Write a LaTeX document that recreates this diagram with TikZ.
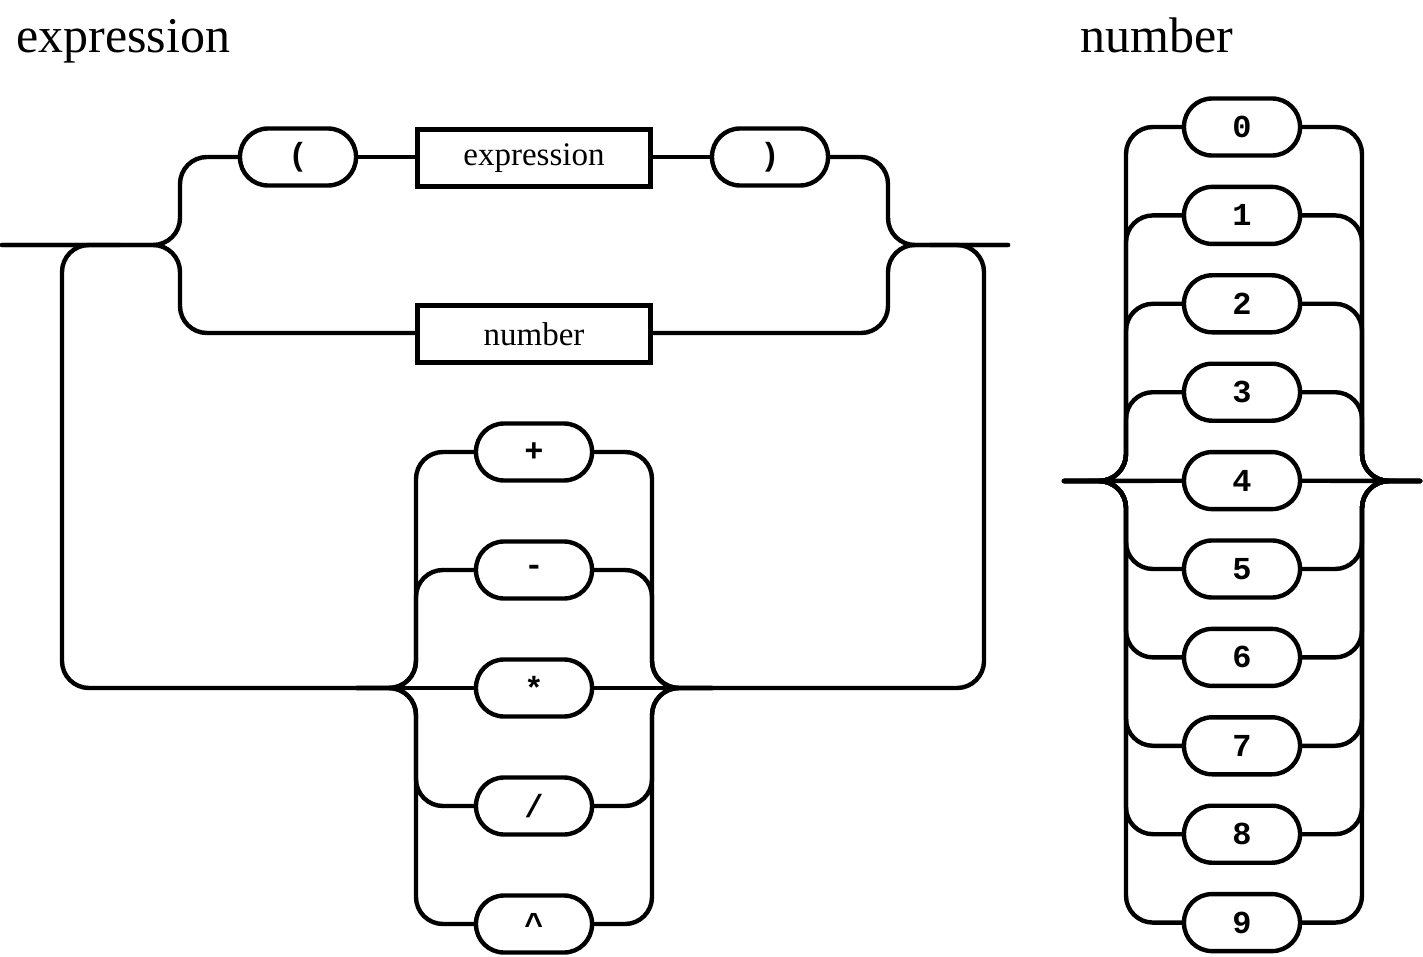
\documentclass[tikz,border=0pt]{standalone}
\usepackage{fontspec}
\setmainfont{Liberation Serif}
\setmonofont{Liberation Mono}

\begin{document}
\begin{tikzpicture}[x=1pt, y=-1pt, line width=4.4pt, line cap=round,
    rail/.style={rounded corners=27pt},
    term/.style={draw, rounded corners=28pt, minimum width=116pt,
      minimum height=57pt, font=\fontsize{32}{36}\selectfont\ttfamily\bfseries},
    nonterm/.style={draw, minimum width=233pt, minimum height=57pt,
      font=\fontsize{33}{40}\selectfont},
    title/.style={anchor=base west, inner sep=0pt,
      font=\fontsize{50}{60}\selectfont}]
  \useasboundingbox (0,0) rectangle (1423,957);

  % Titles
  \node[title] (ttlexpr) at (14,53) {expression};
  \node[title] (ttlnum) at (1078,53) {number};

  % expression: ( expression ) | number
  \node[term] (lpar) at (298,157) {(};
  \node[nonterm] (exprbox) at (534,158) {expression};
  \node[term] (rpar) at (770,157) {)};
  \node[nonterm] (numbox) at (534,334) {number};

  % operators on the way back
  \foreach \i/\s in {0/+, 1/-, 2/*, 3/{/}, 4/\textasciicircum} {
    \node[term] (op\i) at (534, 452+118*\i) {\s};
  }

  \coordinate (ein) at (2,245);
  \coordinate (esplit) at (180,245);
  \coordinate (ejoin) at (888,245);
  \coordinate (eout) at (1008,245);
  \coordinate (ebackl) at (120,245);
  \coordinate (ebackr) at (930,245);
  \coordinate (opl) at (416,688);
  \coordinate (opr) at (652,688);
  \coordinate (opll) at (357,688);
  \coordinate (oprr) at (712,688);
  \coordinate (loopl) at (62,688);
  \coordinate (loopr) at (984,688);

  \draw[rail] (ein) -- (esplit) |- (lpar.west);
  \draw (lpar) -- (exprbox.west |- lpar) (exprbox.east |- rpar) -- (rpar);
  \draw[rail] (rpar.east) -| (ejoin) -- (eout);
  \draw[rail] (ein) -- (esplit) |- (numbox.west |- 0,333);
  \draw[rail] (numbox.east |- 0,333) -| (ejoin) -- (eout);

  % loop
  \draw[rail] (ebackr) -| (loopr) -- (oprr);
  \draw[rail] (opll) -- (loopl) |- (ebackl);
  \foreach \i in {0,1,3,4} {
    \draw[rail] (op\i.west) -| (opl) -- (opll);
    \draw[rail] (op\i.east) -| (opr) -- (oprr);
  }
  \draw (opll) -- (op2) -- (oprr);

  % number: 0 .. 9
  \foreach \i in {0,...,9} {
    \node[term] (dig\i) at (1242, 127+88.4*\i) {\i};
  }
  \coordinate (nin) at (1064,481);
  \coordinate (nsplit) at (1126,481);
  \coordinate (njoin) at (1362,481);
  \coordinate (nout) at (1420,481);

  \foreach \i in {0,1,2,3,5,6,7,8,9} {
    \draw[rail] (nin) -- (nsplit) |- (dig\i.west);
    \draw[rail] (dig\i.east) -| (njoin) -- (nout);
  }
  \draw (nin) -- (dig4) -- (nout);
\end{tikzpicture}
\end{document}
